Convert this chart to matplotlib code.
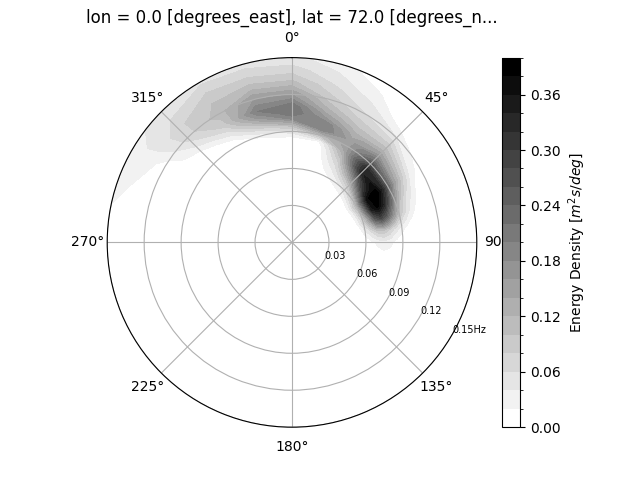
import numpy as np
import matplotlib
matplotlib.use("Agg")
from matplotlib import pyplot as plt
from matplotlib.colors import ListedColormap, BoundaryNorm

title = "lon = 0.0 [degrees_east], lat = 72.0 [degrees_n..."
cbar_label = "Energy Density [$m^{2}s/deg$]"

# frequency axis, Hz
freq = [.05, .055, .06, .065, .07, .075, .08, .085, .09, .095, .10, .105, .11, .12, .13, .14, .15]
# direction axis, degrees (negative = west of north)
dirs = [-90, -75, -60, -45, -30, -15, 0, 15, 30, 45, 60, 67.5, 75, 82.5, 90, 105]

# energy for each direction
e_m90 = [0, 0, 0, 0, 0, 0, 0, 0, 0, 0, 0, 0, 0, 0, 0, 0, 0]
e_m75 = [0, 0, 0, 0, 0, 0, 0, 0, 0, 0, 0, 0, 0, 0, 0, .015, .025]
e_m60 = [0, 0, 0, 0, 0, 0, 0, 0, 0, 0, 0, 0, 0, .005, .025, .035, .035]
e_m45 = [0, 0, 0, 0, 0, 0, 0, 0, 0, 0, 0, .02, .04, .07, .075, .06, .045]
e_m30 = [0, 0, 0, 0, 0, 0, 0, 0, 0, .015, .04, .065, .09, .11, .10, .08, .055]
e_m15 = [0, 0, 0, 0, 0, 0, 0, .005, .03, .07, .12, .17, .20, .16, .11, .075, .05]
e_0 = [0, 0, 0, 0, 0, 0, 0, .015, .05, .11, .18, .22, .22, .16, .105, .07, .045]
e_15 = [0, 0, 0, 0, 0, 0, 0, .02, .11, .20, .20, .16, .13, .09, .065, .045, .03]
e_30 = [0, 0, .02, .035, .055, .08, .11, .14, .15, .15, .13, .11, .09, .06, .04, .022, .005]
e_45 = [0, .02, .05, .10, .17, .25, .33, .33, .27, .21, .16, .12, .09, .04, .005, 0, 0]
e_60 = [0, .05, .12, .25, .37, .395, .39, .33, .24, .16, .11, .07, .035, .005, 0, 0, 0]
e_67 = [0, .03, .10, .22, .35, .385, .34, .26, .17, .10, .06, .035, .012, 0, 0, 0, 0]
e_75 = [0, .02, .07, .14, .24, .28, .24, .17, .10, .06, .03, .012, 0, 0, 0, 0, 0]
e_82 = [0, 0, .03, .06, .09, .10, .08, .05, .03, .012, 0, 0, 0, 0, 0, 0, 0]
e_90 = [0, 0, .005, .015, .025, .03, .025, .012, 0, 0, 0, 0, 0, 0, 0, 0, 0]
e_105 = [0, 0, 0, 0, 0, 0, 0, 0, 0, 0, 0, 0, 0, 0, 0, 0, 0]

levels = np.arange(0, 0.41, 0.02)
rticks = [0.03, 0.06, 0.09, 0.12, 0.15]
rlabels = ["0.03", "0.06", "0.09", "0.12", "0.15Hz"]

energy = np.array([e_m90, e_m75, e_m60, e_m45, e_m30, e_m15, e_0, e_15, e_30, e_45, e_60, e_67, e_75, e_82, e_90, e_105])

cmap = ListedColormap(plt.cm.gray_r(np.linspace(0, 1, len(levels) - 1)))
norm = BoundaryNorm(levels, cmap.N)

fig = plt.figure(figsize=(6.4, 4.8), dpi=100)
ax = fig.add_subplot(111, projection="polar")
ax.set_theta_zero_location("N")
ax.set_theta_direction(-1)

cs = ax.contourf(np.deg2rad(dirs), freq, energy.T, levels=levels, cmap=cmap, norm=norm)

ax.set_rgrids(rticks, labels=rlabels, angle=120, fontsize=7)
ax.set_ylim(0, 0.15)
ax.set_title(title)

cb = fig.colorbar(cs, ax=ax)
cb.set_label(cbar_label)

fig.savefig("out.png", dpi=100)
